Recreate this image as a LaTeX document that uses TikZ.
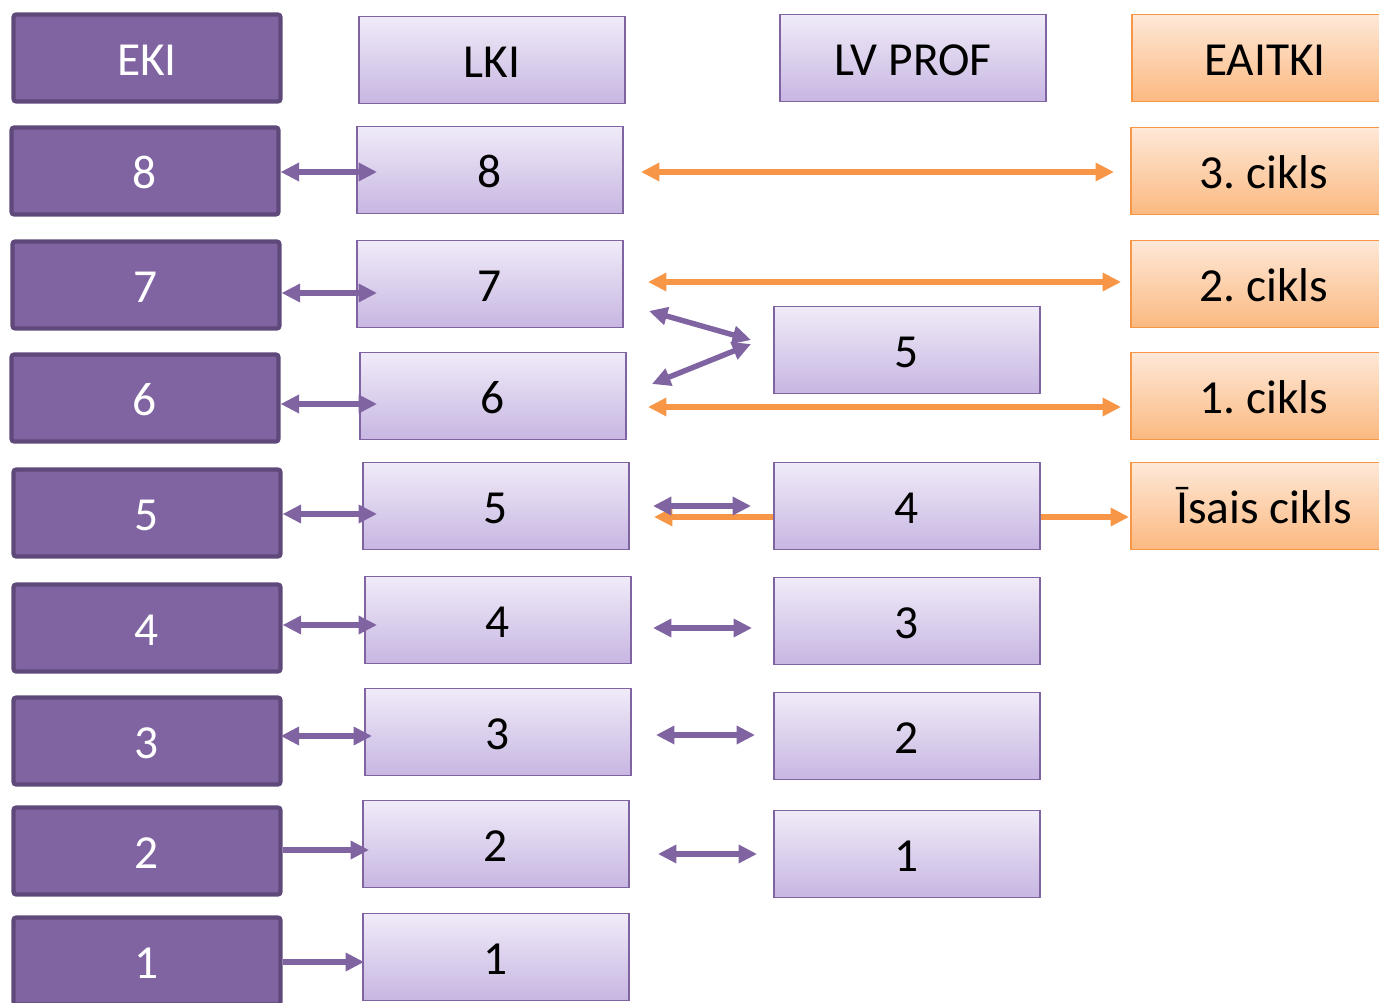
\documentclass[tikz,border=0pt]{standalone}
\usepackage{fontspec}
\setmainfont{Carlito}
\usetikzlibrary{arrows.meta,calc,backgrounds}
\definecolor{ekifill}{HTML}{8064A2}
\definecolor{ekiline}{HTML}{5F497A}
\definecolor{lkitop}{HTML}{F0EBF8}
\definecolor{lkibot}{HTML}{C7B6E2}
\definecolor{eaitop}{HTML}{FEE8D7}
\definecolor{eaibot}{HTML}{FBB981}
\definecolor{eailine}{HTML}{F79646}
\frenchspacing
\tikzset{
  ekibox/.style={draw=ekiline, line width=2.4pt, fill=ekifill, rounded corners=1.5pt, text=white,
    minimum width=5.34cm, minimum height=1.74cm, inner sep=0pt, text height=19.5pt, text depth=0pt},
  lkibox/.style={draw=ekifill, line width=1.1pt, top color=lkitop, bottom color=lkibot,
    minimum width=5.32cm, minimum height=1.74cm, inner sep=0pt, text height=19.5pt, text depth=0pt},
  eaitkibox/.style={lkibox, draw=eailine, top color=eaitop, bottom color=eaibot},
  biarrow/.style={draw=ekifill, line width=3.1pt, {Triangle[length=10.5pt,width=10pt]}-{Triangle[length=10.5pt,width=10pt]}},
  onearrow/.style={draw=ekifill, line width=3.1pt, -{Triangle[length=10.5pt,width=10pt]}},
  orarrow/.style={biarrow, draw=eailine},
}
\begin{document}
\begin{tikzpicture}[x=0.02cm, y=-0.02cm, font=\fontsize{27}{32}\selectfont]
  \useasboundingbox (0,0) rectangle (1379,1003);
  \node [ekibox] (eki) at (147,58) {EKI};
  \foreach \n/\x/\y in {8/145/171,7/146/285,6/145/398,5/147/513,4/147/628,3/147/741,2/147/851,1/147/961} {
    \node [ekibox] (e\n) at (\x,\y) {\n};
  }
  \node [lkibox] (lki) at (492,60) {LKI};
  \foreach \n/\x/\y in {8/490/170,7/490/284,6/493/396,5/496/506,4/498/620,3/498/732,2/496/844,1/496/957} {
    \node [lkibox] (l\n) at (\x,\y) {\n};
  }
  \node [lkibox] (lvprof) at (913,58) {LV PROF};
  \foreach \n/\y in {5/350,4/506,3/621,2/736,1/854} {
    \node [lkibox] (p\n) at (907,\y) {\n};
  }
  \node [eaitkibox] (eaitki) at (1265,58) {EAITKI};
  \node [eaitkibox] (c3) at (1264,171) {3. cikls};
  \node [eaitkibox] (c2) at (1264,284) {2. cikls};
  \node [eaitkibox] (c1) at (1264,396) {1. cikls};
  \node [eaitkibox] (c0) at (1264,506) {Īsais cikls};

  \draw [biarrow] ($(e8.east)+(0,1)$) -- ($(l8.west)+(21,2)$);
  \draw [biarrow] ($(e7.east)+(0,8)$) -- ($(l7.west)+(21,9)$);
  \draw [biarrow] ($(e6.east)+(0,6)$) -- ($(l6.west)+(18,8)$);
  \draw [biarrow] ($(e5.east)+(0,1)$) -- ($(l5.west)+(15,8)$);
  \draw [biarrow] ($(e4.east)+(0,-3)$) -- ($(l4.west)+(13,5)$);
  \draw [biarrow] ($(e3.east)+(-2,-5)$) -- ($(l3.west)+(8,4)$);
  \draw [onearrow] ($(e2.east)+(0,-1)$) -- ($(l2.west)+(7,6)$);
  \draw [onearrow] ($(e1.east)+(0,1)$) -- ($(l1.west)+(2,5)$);

  \draw [orarrow] ($(l8.east)+(17,2)$) -- ($(c3.west)+(-16,1)$);
  \draw [orarrow] ($(l7.east)+(24,-2)$) -- ($(c2.west)+(-9,-2)$);
  \draw [orarrow] ($(l6.east)+(21,11)$) -- ($(c1.west)+(-9,11)$);
  \begin{pgfonlayer}{background}
    \draw [orarrow] ($(l5.east)+(24,11)$) -- ($(c0.west)+(-1,11)$);
  \end{pgfonlayer}

  \draw [biarrow] ($(l7.east)+(25,27)$) -- ($(p5.west)+(-22,-10)$);
  \draw [biarrow] ($(l6.east)+(25,-12)$) -- ($(p5.west)+(-22,-6)$);
  \draw [biarrow] ($(l5.east)+(23,0)$) -- ($(p4.west)+(-22,0)$);
  \draw [biarrow] ($(l4.east)+(21,8)$) -- ($(p3.west)+(-21,7)$);
  \draw [biarrow] ($(l3.east)+(24,3)$) -- ($(p2.west)+(-18,-1)$);
  \draw [biarrow] ($(l2.east)+(28,10)$) -- ($(p1.west)+(-16,0)$);
\end{tikzpicture}
\end{document}
